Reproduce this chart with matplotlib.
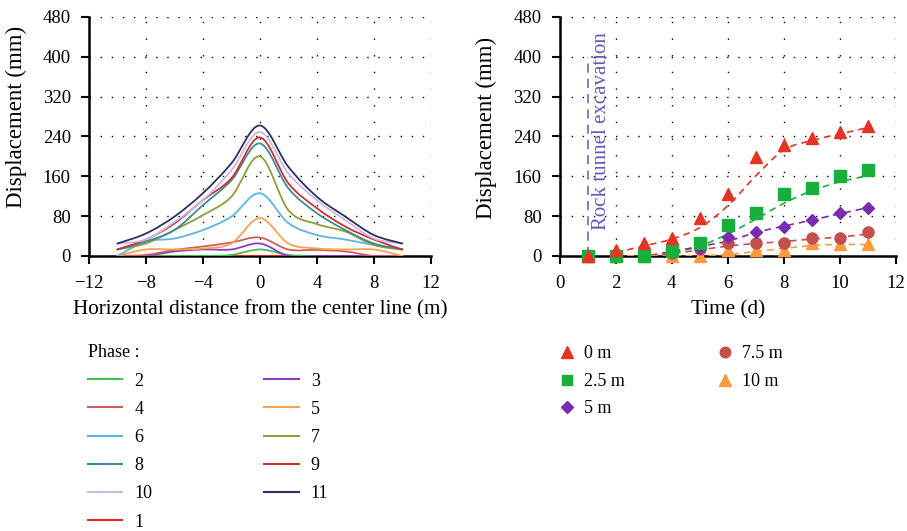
import numpy as np
import matplotlib.pyplot as plt
from matplotlib.path import Path
from matplotlib.patches import PathPatch
from matplotlib.lines import Line2D

plt.rcParams['font.family'] = ['Liberation Serif', 'DejaVu Serif']

# Left chart: settlement trough per phase
dist = [-10, -8, -6, -4, -2, 0, 2, 4, 6, 8, 10]
phase_labels = ['2', '4', '6', '8', '10', '1', '3', '5', '7', '9', '11']
phase_vals = {
    '1': [0, 0, 0, 0, 0, 0, 0, 0, 0, 0, 0],
    '2': [0, 0, 0, 0, 2, 13, 2, 0, 0, 0, 0],
    '3': [0, 0, 9, 13, 13, 25, 0, 0, 0, 0, 0],
    '4': [0, 2, 12, 19, 27, 37, 13, 12, 9, 0, 0],
    '5': [0, 13, 13, 15, 25, 76, 25, 15, 13, 13, 0],
    '6': [0, 29, 35, 52, 79, 126, 66, 42, 33, 22, 13],
    '7': [13, 25, 52, 82, 119, 200, 92, 64, 49, 22, 13],
    '8': [13, 29, 52, 102, 152, 226, 136, 86, 52, 25, 13],
    '9': [13, 33, 65, 112, 156, 238, 146, 96, 59, 33, 13],
    '10': [25, 33, 68, 112, 172, 249, 166, 112, 72, 35, 25],
    '11': [25, 45, 79, 126, 186, 262, 179, 119, 79, 42, 25],
}
phase_colors = {
    '1': '#ee2222', '2': '#3fc052', '3': '#8e3bc2', '4': '#c9605c',
    '5': '#f9a24e', '6': '#5ab5e4', '7': '#8d9f3a', '8': '#3b8b9b',
    '9': '#c9332c', '10': '#cdb6e4', '11': '#2b2f66',
}

# Right chart: displacement over time at several offsets
days = [1, 2, 3, 4, 5, 6, 7, 8, 9, 10, 11]
offset_labels = ['0 m', '2.5 m', '5 m', '7.5 m', '10 m']
measured = {
    '0 m': [0, 12, 25, 37, 76, 124, 199, 223, 236, 248, 262],
    '2.5 m': [0, 0, 0, 10, 25, 62, 87, 124, 136, 161, 173],
    '5 m': [0, 0, 0, 12, 15, 38, 49, 59, 72, 86, 97],
    '7.5 m': [0, 0, 0, 6, 13, 25, 25, 25, 37, 37, 49],
    '10 m': [0, 0, 0, 0, 0, 11, 11, 12, 25, 23, 23],
}
fit_days = [2, 3, 4, 5, 6, 7, 8, 9, 10, 11]
fitted = {
    '0 m': [7, 20, 34, 57, 101, 161, 213, 232, 245, 258],
    '2.5 m': [0, 0, 7, 20, 44, 74, 106, 131, 149, 161],
    '5 m': [0, 0, 9, 19, 30, 47, 60, 72, 85, 97],
    '7.5 m': [0, 0, 5, 12, 20, 25, 29, 34, 38, 44],
    '10 m': [0, 0, 0, 1, 3, 9, 15, 21, 23, 23],
}
offset_style = {
    '0 m': ('#e63324', '^', 9),
    '2.5 m': ('#17b03c', 's', 8),
    '5 m': ('#7b2bb0', 'D', 6.5),
    '7.5 m': ('#c4504d', 'o', 8),
    '10 m': ('#f99b3e', '^', 9),
}
excav_day = 1
excav_top = 400


def smooth_path(xs, ys):
    # Catmull-Rom curve as cubic Bezier segments
    pts = np.column_stack([xs, ys]).astype(float)
    verts = [pts[0]]
    codes = [Path.MOVETO]
    n = len(pts)
    for i in range(n - 1):
        p0 = pts[max(i - 1, 0)]
        p1 = pts[i]
        p2 = pts[i + 1]
        p3 = pts[min(i + 2, n - 1)]
        verts += [p1 + (p2 - p0) / 6, p2 - (p3 - p1) / 6, p2]
        codes += [Path.CURVE4] * 3
    return Path(verts, codes)


def style_axes(ax):
    ax.spines['top'].set_visible(False)
    ax.spines['right'].set_visible(False)
    ax.spines['left'].set_linewidth(1.8)
    ax.spines['bottom'].set_linewidth(1.8)
    ax.tick_params(direction='out', length=6, width=1.5, labelsize=13.5)
    ax.tick_params(axis='y', pad=7)
    ax.tick_params(axis='x', pad=8)
    ax.yaxis.grid(True, color='black', linestyle=(0, (1, 7)), linewidth=1.0)
    ax.xaxis.grid(True, color='black', linestyle=(0, (1, 11)), linewidth=1.0)
    ax.set_axisbelow(True)


fig = plt.figure(figsize=(9.07, 5.31), dpi=100)
ax1 = fig.add_axes([0.098, 0.518, 0.377, 0.450])
ax2 = fig.add_axes([0.617, 0.518, 0.371, 0.450])

order = ['1', '2', '3', '4', '5', '6', '7', '8', '9', '10', '11']
for p in order:
    ax1.add_patch(PathPatch(smooth_path(dist, phase_vals[p]), fill=False,
                            edgecolor=phase_colors[p], linewidth=1.3,
                            capstyle='round', zorder=3))
ax1.set_xlim(-12, 12)
ax1.set_ylim(0, 480)
ax1.set_xticks(range(-12, 13, 4))
ax1.set_xticklabels(['\u221212', '\u22128', '\u22124', '0', '4', '8', '12'])
ax1.set_yticks(range(0, 481, 80))
ax1.set_xlabel('Horizontal distance from the center line (m)', fontsize=15.3)
ax1.set_ylabel('Displacement (mm)', fontsize=16.5)
ax1.xaxis.set_label_coords(0.5, -0.184)
ax1.yaxis.set_label_coords(-0.181, 0.58)
style_axes(ax1)

for lab in offset_labels:
    c, m, s = offset_style[lab]
    ax2.add_patch(PathPatch(smooth_path(fit_days, fitted[lab]), fill=False,
                            edgecolor=c, linewidth=1.2,
                            linestyle=(0, (4, 3)), zorder=3))
for lab in offset_labels[::-1]:
    c, m, s = offset_style[lab]
    ax2.plot(days, measured[lab], linestyle='none', marker=m, markersize=s,
             color=c, clip_on=False, zorder=4)
ax2.plot([excav_day, excav_day], [0, excav_top], color='#5b5bbd',
         linestyle=(0, (6, 4)), linewidth=1.1, zorder=2)
ax2.text(excav_day + 0.5, 251, 'Rock tunnel excavation', rotation=90,
         ha='center', va='center', fontsize=15, color='#5b5bbd')
ax2.set_xlim(0, 12)
ax2.set_ylim(0, 480)
ax2.set_xticks(range(0, 13, 2))
ax2.set_yticks(range(0, 481, 80))
ax2.set_xlabel('Time (d)', fontsize=15.3)
ax2.set_ylabel('Displacement (mm)', fontsize=16.5)
ax2.xaxis.set_label_coords(0.5, -0.184)
ax2.yaxis.set_label_coords(-0.185, 0.535)
style_axes(ax2)

# legends
h1 = [Line2D([], [], color=phase_colors[p], linewidth=1.5) for p in phase_labels]
fig.legend(h1, phase_labels, loc='upper left', bbox_to_anchor=(0.079, 0.382),
           ncol=2, frameon=False, fontsize=13, title='Phase :',
           title_fontsize=13, handlelength=1.9, handletextpad=0.67,
           columnspacing=6.2, labelspacing=0.62, alignment='left')

h2 = [Line2D([], [], linestyle='none', marker=offset_style[l][1],
             markersize=offset_style[l][2] * 0.95, color=offset_style[l][0])
      for l in offset_labels]
fig.legend(h2, offset_labels, loc='upper left', bbox_to_anchor=(0.5976, 0.380),
           ncol=2, frameon=False, fontsize=13, handlelength=1.0,
           handletextpad=0.45, columnspacing=5.0, labelspacing=0.58)

fig.savefig('out.png', dpi=100)
